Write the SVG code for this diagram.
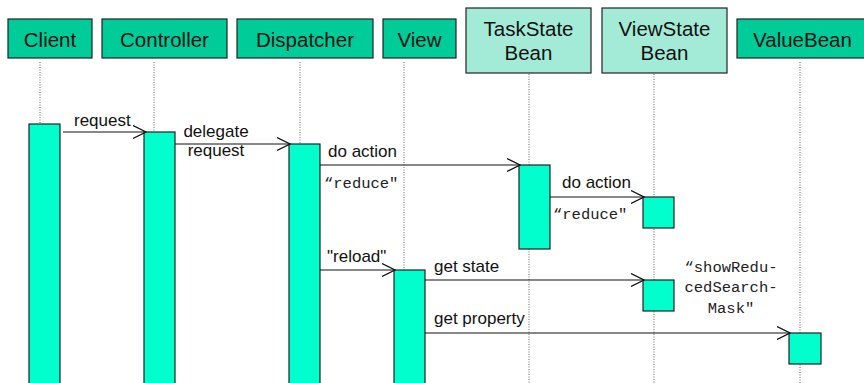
<svg xmlns="http://www.w3.org/2000/svg" width="864" height="383" viewBox="0 0 864 383">
<defs>
<marker id="open" viewBox="0 0 14 14" refX="13" refY="7" markerWidth="14" markerHeight="14" markerUnits="userSpaceOnUse" orient="auto">
<path d="M0,0.5 L13,7 L0,13.5" fill="none" stroke="#111" stroke-width="1.2"/>
</marker>
</defs>
<style>
.hd{fill:#00CC99;stroke:#222;stroke-width:1.2}
.hl{fill:#A3EBD6;stroke:#222;stroke-width:1.2}
.act{fill:#00FFCC;stroke:#222;stroke-width:1.2}
.life{stroke:#666;stroke-width:1;stroke-dasharray:1,1.5;fill:none}
.msg{stroke:#111;stroke-width:1.2;fill:none;marker-end:url(#open)}
.ht{font-family:"Liberation Sans",Arial,sans-serif;font-size:20.5px;fill:#111;text-anchor:middle}
.mt{font-family:"Liberation Sans",Arial,sans-serif;font-size:17px;fill:#111}
.ct{font-family:"Liberation Mono","Courier New",monospace;font-size:15.5px;fill:#222}
</style>
<rect width="864" height="383" fill="#fff"/>
<g id="lifelines">
<line class="life" x1="40" y1="62" x2="40" y2="383"/>
<line class="life" x1="154" y1="62" x2="154" y2="383"/>
<line class="life" x1="300" y1="62" x2="300" y2="383"/>
<line class="life" x1="404" y1="62" x2="404" y2="383"/>
<line class="life" x1="529" y1="74" x2="529" y2="383"/>
<line class="life" x1="654" y1="74" x2="654" y2="383"/>
<line class="life" x1="800" y1="62" x2="800" y2="383"/>
</g>
<g id="client"><rect class="hd" x="8" y="19" width="84" height="39"/><text class="ht" x="50" y="47">Client</text><rect class="act" x="29" y="124" width="31" height="262"/></g>
<g id="controller"><rect class="hd" x="102" y="19" width="125" height="39"/><text class="ht" x="164.5" y="47">Controller</text><rect class="act" x="144" y="132" width="31" height="254"/></g>
<g id="dispatcher"><rect class="hd" x="237" y="19" width="136" height="39"/><text class="ht" x="305" y="47">Dispatcher</text><rect class="act" x="289" y="144" width="31" height="242"/></g>
<g id="view"><rect class="hd" x="383" y="19" width="73" height="39"/><text class="ht" x="419.5" y="47">View</text><rect class="act" x="394" y="270" width="31" height="116"/></g>
<g id="taskstatebean"><rect class="hl" x="466" y="8" width="125" height="65"/><text class="ht" x="528.5" y="36">TaskState</text><text class="ht" x="528.5" y="60">Bean</text><rect class="act" x="519" y="165" width="31" height="84"/></g>
<g id="viewstatebean"><rect class="hl" x="602" y="8" width="125" height="65"/><text class="ht" x="664.5" y="36">ViewState</text><text class="ht" x="664.5" y="60">Bean</text><rect class="act" x="643" y="197" width="31" height="31"/><rect class="act" x="643" y="280" width="31" height="31"/></g>
<g id="valuebean"><rect class="hd" x="737" y="19" width="130" height="39"/><text class="ht" x="802.5" y="47">ValueBean</text><rect class="act" x="789" y="333" width="32" height="31"/></g>
<g id="connectors">
<line class="msg" x1="63" y1="132" x2="146" y2="132"/>
<line class="msg" x1="175" y1="144" x2="290" y2="144"/>
<line class="msg" x1="320" y1="165" x2="520" y2="165"/>
<line class="msg" x1="550" y1="197" x2="644" y2="197"/>
<line class="msg" x1="320" y1="270" x2="395" y2="270"/>
<line class="msg" x1="425" y1="280" x2="644" y2="280"/>
<line class="msg" x1="425" y1="333" x2="790" y2="333"/>
</g>
<g id="labels">
<text class="mt" x="74" y="126">request</text>
<text class="mt" x="216" y="137" text-anchor="middle">delegate</text>
<text class="mt" x="216" y="156" text-anchor="middle">request</text>
<text class="mt" x="328" y="157">do action</text>
<text class="ct" x="324" y="188">“reduce"</text>
<text class="mt" x="562" y="188">do action</text>
<text class="ct" x="553" y="219">“reduce"</text>
<text class="mt" x="327" y="262">"reload"</text>
<text class="mt" x="434" y="272">get state</text>
<text class="mt" x="434" y="324">get property</text>
<text class="ct" x="731" y="272" text-anchor="middle">“showRedu-</text>
<text class="ct" x="731" y="292" text-anchor="middle">cedSearch-</text>
<text class="ct" x="731" y="313" text-anchor="middle">Mask"</text>
</g>
</svg>
